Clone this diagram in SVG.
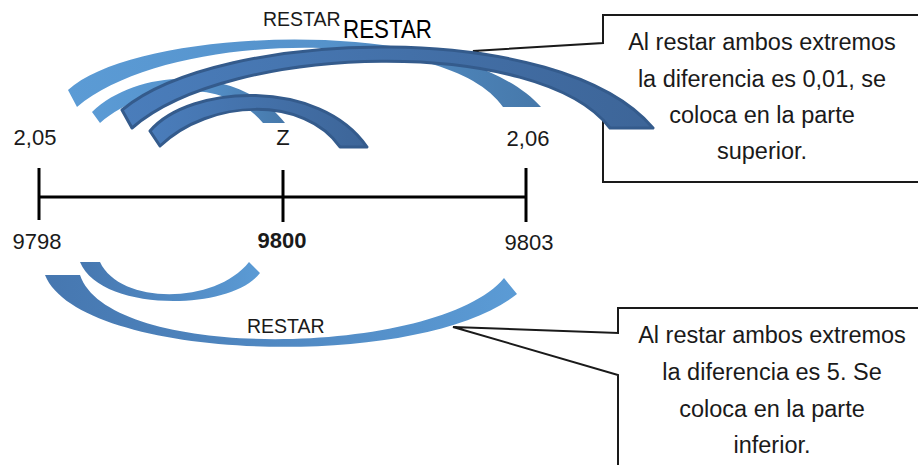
<svg xmlns="http://www.w3.org/2000/svg" width="918" height="465" viewBox="0 0 918 465">
<defs>
<linearGradient id="gTop" x1="0" y1="0" x2="1" y2="0">
  <stop offset="0" stop-color="#5b9bd5"/>
  <stop offset="0.55" stop-color="#5592cb"/>
  <stop offset="1" stop-color="#4678aa"/>
</linearGradient>
<linearGradient id="gDark" x1="0" y1="0" x2="1" y2="0">
  <stop offset="0" stop-color="#4a7dbb"/>
  <stop offset="1" stop-color="#3d6598"/>
</linearGradient>
<linearGradient id="gBot" x1="0" y1="0" x2="1" y2="0">
  <stop offset="0" stop-color="#4677b0"/>
  <stop offset="1" stop-color="#5b9bd5"/>
</linearGradient>
<style>
 .t{font-family:"Liberation Sans",Arial,sans-serif;fill:#1a1a1a}
 .lbl{font-size:22px;text-anchor:middle}
 .rs{font-size:19.5px}
 .call{font-size:23.5px;text-anchor:middle}
 .box{fill:#fff;stroke:#1a1a1a;stroke-width:2;stroke-linejoin:miter}
 .light{fill:url(#gTop)}
 .lightb{fill:url(#gBot)}
 .dark{fill:url(#gDark);stroke:#345b8c;stroke-width:3;stroke-linejoin:round}
 .axis{stroke:#000;stroke-width:3;fill:none}
</style>
</defs>
<rect width="918" height="465" fill="#fff"/>

<g id="callout-top">
  <path class="box" d="M 603,15 L 930,15 L 930,182 L 603,182 L 603,95 L 473,51 L 603,43 Z"/>
  <text class="t call" x="762" y="50">Al restar ambos extremos</text>
  <text class="t call" x="762" y="87">la diferencia es 0,01, se</text>
  <text class="t call" x="762" y="123">coloca en la parte</text>
  <text class="t call" x="762" y="159">superior.</text>
</g>

<g id="callout-bottom">
  <path class="box" d="M 618,308 L 930,308 L 930,480 L 618,480 L 618,375 L 453,327 L 618,333 Z"/>
  <text class="t call" x="772" y="343">Al restar ambos extremos</text>
  <text class="t call" x="772" y="380">la diferencia es 5. Se</text>
  <text class="t call" x="772" y="417">coloca en la parte</text>
  <text class="t call" x="772" y="453">inferior.</text>
</g>

<g id="connectors">
  <path id="arc-top-1" class="light" d="M 68,90 C 140,25 460,15 541,107 L 503,107 C 450,28 170,28 77,107 Z"/>
  <path id="arc-top-2" class="light" d="M 92,112 C 140,66 240,66 285,123 L 263,123 C 228,80 150,80 100,123 Z"/>
  <path id="arc-top-3" class="dark" d="M 122,110 C 220,28 560,18 653,128 L 610,128 C 540,36 230,42 132,128 Z"/>
  <path id="arc-top-4" class="dark" d="M 150,131 C 190,84 320,78 367,147 L 340,147 C 305,96 210,98 160,146 Z"/>
  <path id="arc-bot-1" class="lightb" d="M 80,262 L 100,262 C 120,305 215,305 249,262 L 260,273 C 230,312 100,312 80,262 Z"/>
  <path id="arc-bot-2" class="lightb" d="M 45,275 L 80,275 C 110,364 440,356 504,278 L 517,294 C 420,372 80,362 45,275 Z"/>
</g>

<g id="number-line">
  <line class="axis" x1="39" y1="197" x2="526" y2="197"/>
  <line class="axis" x1="39" y1="168" x2="39" y2="220"/>
  <line class="axis" x1="283" y1="170" x2="283" y2="222"/>
  <line class="axis" x1="526" y1="168" x2="526" y2="222"/>
</g>

<g id="labels">
  <text class="t rs" x="263" y="26">RESTAR</text>
  <text class="t" x="343" y="38" font-size="26" textLength="89" lengthAdjust="spacingAndGlyphs" style="fill:#000">RESTAR</text>
  <text class="t rs" x="247" y="333">RESTAR</text>
  <text class="t lbl" x="35" y="145">2,05</text>
  <text class="t lbl" x="283" y="145">Z</text>
  <text class="t lbl" x="528" y="146">2,06</text>
  <text class="t lbl" x="37" y="249">9798</text>
  <text class="t lbl" x="282" y="248" font-weight="bold">9800</text>
  <text class="t lbl" x="529" y="250">9803</text>
</g>
</svg>
